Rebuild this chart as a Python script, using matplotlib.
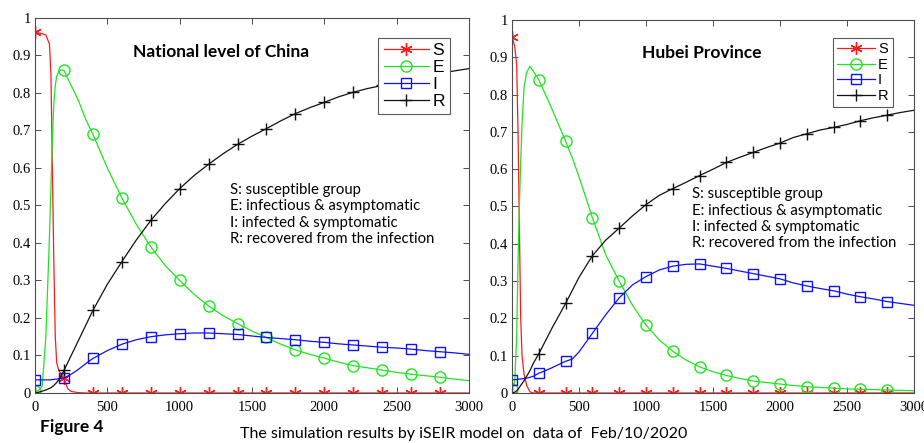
import matplotlib
matplotlib.use("Agg")
import matplotlib.pyplot as plt

# time grid and curves (national level)
x_nat = [0, 25, 50, 75, 100, 110, 120, 130, 140, 150, 165, 180, 200, 225, 250, 300, 350, 400,
         500, 600, 700, 800, 900, 1000, 1100, 1200, 1300, 1400, 1500, 1600, 1700, 1800, 1900,
         2000, 2100, 2200, 2300, 2400, 2500, 2600, 2700, 2800, 2900, 3000]
S_nat = [0.962, 0.96, 0.958, 0.955, 0.93, 0.85, 0.6, 0.35, 0.15, 0.08, 0.06, 0.05, 0.04, 0.012, 0.004,
         0.001, 0, 0, 0, 0, 0, 0, 0, 0, 0, 0, 0, 0, 0, 0, 0, 0, 0, 0, 0, 0, 0, 0, 0, 0, 0, 0, 0, 0]
E_nat = [0.005, 0.006, 0.02, 0.15, 0.42, 0.55, 0.68, 0.77, 0.82, 0.845, 0.857, 0.862, 0.86, 0.84, 0.82,
         0.78, 0.73, 0.69, 0.60, 0.52, 0.45, 0.39, 0.34, 0.30, 0.263, 0.232, 0.206, 0.185, 0.165,
         0.148, 0.13, 0.115, 0.103, 0.093, 0.082, 0.073, 0.067, 0.061, 0.055, 0.05, 0.046, 0.042,
         0.037, 0.033]
I_nat = [0.035, 0.035, 0.035, 0.035, 0.035, 0.035, 0.036, 0.036, 0.037, 0.037, 0.038, 0.039, 0.04,
         0.045, 0.05, 0.063, 0.078, 0.092, 0.113, 0.13, 0.142, 0.15, 0.155, 0.158, 0.16, 0.16,
         0.158, 0.156, 0.152, 0.148, 0.145, 0.142, 0.138, 0.135, 0.131, 0.128, 0.125, 0.122, 0.12,
         0.117, 0.113, 0.11, 0.107, 0.103]
R_nat = [0, 0.002, 0.005, 0.008, 0.012, 0.014, 0.017, 0.02, 0.024, 0.028, 0.036, 0.045, 0.06, 0.08,
         0.10, 0.14, 0.18, 0.22, 0.29, 0.35, 0.408, 0.46, 0.505, 0.545, 0.58, 0.61, 0.638, 0.663,
         0.685, 0.705, 0.726, 0.745, 0.761, 0.775, 0.79, 0.802, 0.812, 0.82, 0.828, 0.836, 0.845,
         0.852, 0.859, 0.865]

# Hubei province
x_hub = [0, 20, 35, 45, 55, 65, 75, 90, 110, 134, 160, 200, 250, 300, 400, 450, 500, 600, 700,
         800, 900, 1000, 1100, 1200, 1300, 1400, 1500, 1600, 1700, 1800, 1900, 2000, 2100, 2200,
         2300, 2400, 2500, 2600, 2700, 2800, 2900, 3000]
S_hub = [0.955, 0.93, 0.88, 0.7, 0.45, 0.2, 0.1, 0.05, 0.02, 0.003, 0, 0, 0, 0, 0, 0, 0, 0, 0,
         0, 0, 0, 0, 0, 0, 0, 0, 0, 0, 0, 0, 0, 0, 0, 0, 0, 0, 0, 0, 0, 0, 0]
E_hub = [0.01, 0.03, 0.15, 0.35, 0.5, 0.62, 0.72, 0.82, 0.86, 0.876, 0.862, 0.84, 0.80, 0.76,
         0.675, 0.63, 0.58, 0.47, 0.37, 0.30, 0.235, 0.182, 0.142, 0.112, 0.088, 0.07, 0.057,
         0.047, 0.039, 0.032, 0.028, 0.024, 0.02, 0.017, 0.015, 0.013, 0.011, 0.01, 0.009, 0.008,
         0.007, 0.006]
I_hub = [0.035, 0.036, 0.036, 0.037, 0.037, 0.038, 0.038, 0.039, 0.04, 0.042, 0.045, 0.053, 0.06,
         0.068, 0.085, 0.091, 0.11, 0.16, 0.21, 0.255, 0.29, 0.312, 0.33, 0.34, 0.345, 0.346,
         0.34, 0.334, 0.327, 0.32, 0.313, 0.306, 0.295, 0.287, 0.28, 0.274, 0.265, 0.258, 0.252,
         0.245, 0.24, 0.235]
R_hub = [0, 0.002, 0.006, 0.01, 0.015, 0.02, 0.025, 0.033, 0.045, 0.06, 0.08, 0.105, 0.14, 0.175,
         0.24, 0.275, 0.31, 0.368, 0.41, 0.442, 0.475, 0.505, 0.53, 0.548, 0.565, 0.583, 0.6,
         0.618, 0.632, 0.645, 0.658, 0.67, 0.685, 0.695, 0.705, 0.712, 0.72, 0.73, 0.738, 0.745,
         0.752, 0.758]

labels = ["S", "E", "I", "R"]
notes = ("S: susceptible group\nE: infectious & asymptomatic\n"
         "I: infected & symptomatic\nR: recovered from the infection")

colors = ["#ff1a1a", "#1ee61e", "#1010ff", "#111111"]
markers = [(6, 2, 0), "o", "s", "+"]
msizes = [9, 8, 6.5, 8.5]


def draw_panel(ax, x, curves, title, title_xy, note_xy, leg_anchor, leg_size):
    every = [i for i, v in enumerate(x) if v % 200 == 0 and v < 3000]
    for y, lab, c, m, ms in zip(curves, labels, colors, markers, msizes):
        ax.plot(x, y, color=c, lw=0.9, marker=m, ms=ms, markevery=every,
                mfc="none", mec=c, mew=1.0, label=lab)
    ax.set_xlim(0, 3000)
    ax.set_ylim(0, 1)
    ax.set_xticks(range(0, 3001, 500))
    ax.set_yticks([i / 10 for i in range(11)])
    ax.set_yticklabels(["0"] + ["%.1f" % (i / 10) for i in range(1, 10)] + ["1"])
    ax.tick_params(direction="in", length=4, top=True, right=True, width=0.7,
                   color="0.3", labelsize=10.5)
    ax.tick_params(axis="x", pad=6)
    ax.tick_params(axis="y", pad=3)
    for lab in ax.get_xticklabels() + ax.get_yticklabels():
        lab.set_fontfamily("Liberation Serif")
    for sp in ax.spines.values():
        sp.set_color("0.3")
        sp.set_linewidth(0.8)

    ax.text(title_xy[0], title_xy[1], title, ha="center", va="center",
            fontsize=12.5, fontweight="bold", family="Lato")
    ax.text(note_xy[0], note_xy[1], notes, ha="left", va="top", fontsize=10.7,
            family="Lato", linespacing=1.22,
            bbox=dict(facecolor="white", edgecolor="none", pad=1))

    leg = ax.legend(loc="upper right", bbox_to_anchor=leg_anchor, borderaxespad=0,
                    prop={"family": "Liberation Sans", "size": leg_size},
                    handlelength=2.6, handletextpad=0.2, labelspacing=0.1,
                    borderpad=0.3, fancybox=False, framealpha=1)
    leg.get_frame().set_edgecolor("0.35")
    leg.get_frame().set_linewidth(0.8)


fig = plt.figure(figsize=(9.24, 4.43), dpi=100)
ax1 = fig.add_axes([0.0379, 0.1129, 0.4697, 0.8465])
ax2 = fig.add_axes([0.5541, 0.1129, 0.4351, 0.842])

draw_panel(ax1, x_nat, [S_nat, E_nat, I_nat, R_nat], "National level of China",
           (1285, 0.909), (1348, 0.56), (0.956, 0.947), 12.5)
draw_panel(ax2, x_hub, [S_hub, E_hub, I_hub, R_hub], "Hubei Province",
           (1415, 0.911), (1343, 0.552), (0.948, 0.952), 10.5)

fig.text(40 / 924, 1 - 432 / 443, "Figure 4", fontsize=12.5, fontweight="bold",
         family="Lato", ha="left", va="baseline")
fig.text(240 / 924, 1 - 438 / 443, "The simulation results by iSEIR model on  data of  Feb/10/2020",
         fontsize=11.5, family="Lato", ha="left", va="baseline")

fig.savefig("out.png", dpi=100)
